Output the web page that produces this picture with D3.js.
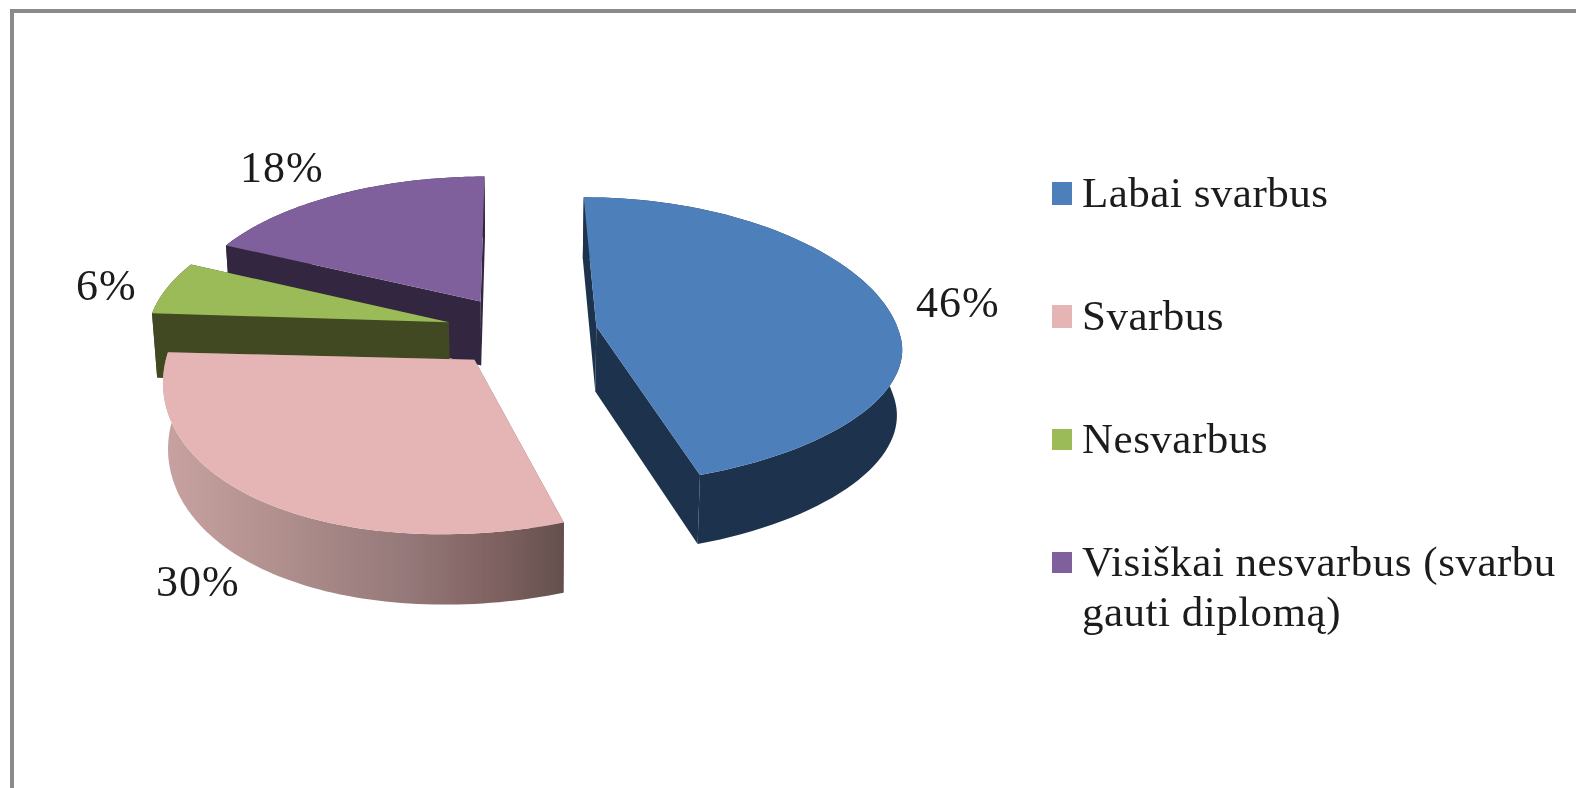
<!DOCTYPE html>
<html>
<head>
<meta charset="utf-8">
<script src="https://cdn.jsdelivr.net/npm/d3@7"></script>
<style>
html,body{margin:0;padding:0;background:#fff;overflow:hidden}
svg{display:block}
text{font-family:"Liberation Serif","Times New Roman",serif;fill:#1a1a1a}
</style>
</head>
<body>
<div id="chart"></div>
<script>
const categories = ["Labai svarbus", "Svarbus", "Nesvarbus", "Visiškai nesvarbus (svarbu gauti diplomą)"];
const legendLines = [["Labai svarbus"], ["Svarbus"], ["Nesvarbus"], ["Visiškai nesvarbus (svarbu", "gauti diplomą)"]];
const values = [46, 30, 6, 18];
const topColors = ["#4e7fba", "#e4b5b4", "#9bbb59", "#7f619c"];
const wallColors = ["#1f334e", "url(#pinkWall)", "#3f4a20", "#32273f"];

const width = 1576, height = 788;
const view = {cx: 522, cy: 331, rx: 302, ry: 143, depth: 65, perspX: 0.123, perspY: 0.1, skew: 9, backSkew: 4, tilt: -16, frontDrop: 4, shrink: 0.014, explode: 0.25};
const labelAnchors = [[916, 317], [156, 596], [76, 300], [240, 182]];
const legendLayout = {swatchX: 1052, swatchW: 20, textX: 1082, baselines: [207, 330, 453, 576], rects: [[182, 23], [305, 23], [429, 21], [552, 21]], lineGap: 50, font: 43, spacing: 0.5};

const svg = d3.select("#chart").append("svg").attr("width", width).attr("height", height);
const defs = svg.append("defs");
const grad = defs.append("linearGradient").attr("id", "pinkWall")
  .attr("gradientUnits", "userSpaceOnUse").attr("x1", 158).attr("x2", 566).attr("y1", 0).attr("y2", 0);
[[0, "#c9a3a2"], [0.3, "#b08f8d"], [0.6, "#96797a"], [0.83, "#7f6160"], [1, "#624f4d"]]
  .forEach(([o, c]) => grad.append("stop").attr("offset", o).attr("stop-color", c));
defs.append("filter").attr("id", "soft").attr("filterUnits", "userSpaceOnUse")
  .attr("x", 0).attr("y", 0).attr("width", width).attr("height", height)
  .append("feGaussianBlur").attr("stdDeviation", 0.6);

const root = svg.append("g").attr("filter", "url(#soft)");

// Frame (right and bottom sides are cropped in the reference)
root.append("path").attr("d", d3.line()([[12, height + 5], [12, 11], [width + 5, 11]]))
  .attr("fill", "none").attr("stroke", "#8a8a8a").attr("stroke-width", 4);

const pie = d3.pie().sort(null).value(d => d).startAngle(0).endAngle(2 * Math.PI);
const arcs = pie(values).map((a, i) => ({...a, i}));

const sx = d3.scaleLinear().domain([-1, 1]).range([view.cx - view.rx, view.cx + view.rx]);
const sy = d3.scaleLinear().domain([-1, 1]).range([view.cy - view.ry, view.cy + view.ry]);

// World point on unit pie -> screen (perspective); z=0 top face, z=1 bottom face
function project(X, Y, z) {
  const s = 1 / (1 - view.perspX * Y);
  const t = 1 / (1 - view.perspY * Y);
  const k = 1 - view.shrink * z;
  const front = Math.max(Y, 0);
  const xShift = Y >= 0 ? view.skew * Y : view.skew * Y + view.backSkew * Y * Y * Y * Y;
  const yShift = view.tilt * X * front + view.frontDrop * front * front;
  return [sx(X * s * k) + xShift, sy(Y * t) + yShift + view.depth * z * Math.sqrt(s)];
}
function offset(a) {
  const m = (a.startAngle + a.endAngle) / 2;
  return [view.explode * Math.sin(m), -view.explode * Math.cos(m)];
}
function rim(a, z) {
  const [ox, oy] = offset(a), n = 80;
  return d3.range(n + 1).map(k => {
    const t = a.startAngle + (a.endAngle - a.startAngle) * k / n;
    return project(ox + Math.sin(t), oy - Math.cos(t), z);
  });
}
function apex(a, z) {
  const [ox, oy] = offset(a);
  return project(ox, oy, z);
}
const poly = pts => d3.line()(pts) + "Z";

// Back-to-front: purple, green, pink, blue
[3, 2, 1, 0].forEach(i => {
  const a = arcs[i], g = root.append("g").attr("class", "slice");
  const top = rim(a, 0), bot = rim(a, 1), a0 = apex(a, 0), a1 = apex(a, 1);
  const wallFill = wallColors[i];
  const radialFill = i === 1 ? "#7f6160" : wallFill;
  g.append("path").attr("d", poly([a0, top[0], bot[0], a1])).attr("fill", radialFill);
  g.append("path").attr("d", poly([a0, top[top.length - 1], bot[bot.length - 1], a1])).attr("fill", radialFill);
  g.append("path").attr("d", poly(top.concat(bot.slice().reverse()))).attr("fill", wallFill);
  g.append("path").attr("d", poly([a0, ...top])).attr("fill", topColors[i]);
});

// Data labels
root.selectAll("text.pct").data(values).join("text").attr("class", "pct")
  .attr("x", (d, i) => labelAnchors[i][0]).attr("y", (d, i) => labelAnchors[i][1])
  .attr("font-size", 44).attr("letter-spacing", 1).text(d => d + "%");

// Legend
legendLines.forEach((lines, i) => {
  root.append("rect").attr("x", legendLayout.swatchX).attr("y", legendLayout.rects[i][0])
    .attr("width", legendLayout.swatchW).attr("height", legendLayout.rects[i][1]).attr("fill", topColors[i]);
  const t = root.append("text").attr("font-size", legendLayout.font).attr("letter-spacing", legendLayout.spacing);
  lines.forEach((l, j) => t.append("tspan").attr("x", legendLayout.textX)
    .attr("y", legendLayout.baselines[i] + j * legendLayout.lineGap).text(l));
});
</script>
</body>
</html>
